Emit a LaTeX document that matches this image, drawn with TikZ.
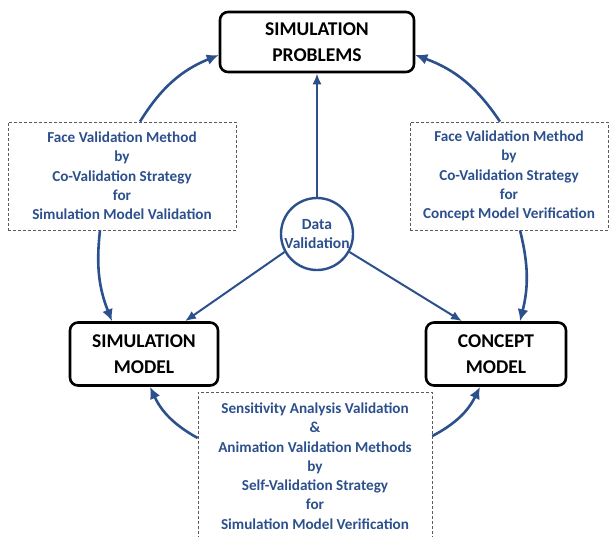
\documentclass[tikz,border=0pt]{standalone}
\usepackage{fontspec}
\setmainfont{Carlito}
\usepackage{tikz}
\usetikzlibrary{arrows.meta}
\definecolor{vblue}{RGB}{44,80,140}
\definecolor{dashgray}{RGB}{90,90,90}

\tikzset{
    mainbox/.style={draw=black, line width=2.6pt, rounded corners=8pt, align=center,
        font=\fontsize{19.5}{26}\selectfont\bfseries, inner sep=0pt},
    methodbox/.style={draw=dashgray, densely dashed, line width=0.7pt, align=center,
        text=vblue, font=\fontsize{15.2}{19.3}\selectfont\bfseries, inner sep=0pt},
    datacircle/.style={circle, draw=vblue, line width=2.4pt, minimum size=72pt, inner sep=0pt,
        align=center, text=vblue, font=\fontsize{15.5}{19}\selectfont\bfseries},
    loop/.style={draw=vblue, line width=2.6pt, -{Latex[length=12pt,width=11pt]}},
    spoke/.style={draw=vblue, line width=2pt, -{Latex[length=11pt,width=9pt]}}
}

\begin{document}
\begin{tikzpicture}[x=1pt, y=-1pt]
    \useasboundingbox (0,0) rectangle (609,536);

    % Nodes
    \node[mainbox, minimum width=194pt, minimum height=60pt] (prob) at (317,42) {SIMULATION\\PROBLEMS};
    \node[mainbox, minimum width=148pt, minimum height=63pt] (simmodel) at (144,354) {SIMULATION\\MODEL};
    \node[mainbox, minimum width=140pt, minimum height=63pt] (concept) at (496,354) {CONCEPT\\MODEL};
    \node[datacircle] (data) at (317,234) {Data\\Validation};

    \node[methodbox, minimum width=228pt, minimum height=108pt] (facesim) at (122,176)
        {Face Validation Method\\by\\Co-Validation Strategy\\for\\Simulation Model Validation};
    \node[methodbox, minimum width=198pt, minimum height=108pt] (faceconcept) at (509,176)
        {Face Validation Method\\by\\Co-Validation Strategy\\for\\Concept Model Verification};
    \node[methodbox, minimum width=234pt, minimum height=148pt] (selfval) at (315,466)
        {Sensitivity Analysis Validation\\\&\\Animation Validation Methods\\by\\Self-Validation Strategy\\for\\Simulation Model Verification};

    % Data validation spokes
    \draw[spoke] (data.north) -- (prob.south);
    \draw[spoke] (data.209) -- ([xshift=41pt]simmodel.north);
    \draw[spoke] (data.-29) -- ([xshift=-34pt]concept.north);

    % Validation loop
    \draw[loop] ([xshift=18pt]facesim.north) to[bend left=18] ([yshift=-13pt]prob.west);
    \draw[loop] ([xshift=-22pt]facesim.south) to[bend right=14] ([xshift=-32pt]simmodel.north);
    \draw[loop] ([xshift=-9pt]faceconcept.north) to[bend right=18] ([yshift=-13pt]prob.east);
    \draw[loop] ([xshift=11pt]faceconcept.south) to[bend left=14] ([xshift=24pt]concept.north);
    \draw[loop] ([yshift=28pt]selfval.west) to[bend left=18] ([xshift=6pt]simmodel.south);
    \draw[loop] ([yshift=30pt]selfval.east) to[bend right=18] ([xshift=-16pt]concept.south);
\end{tikzpicture}
\end{document}
